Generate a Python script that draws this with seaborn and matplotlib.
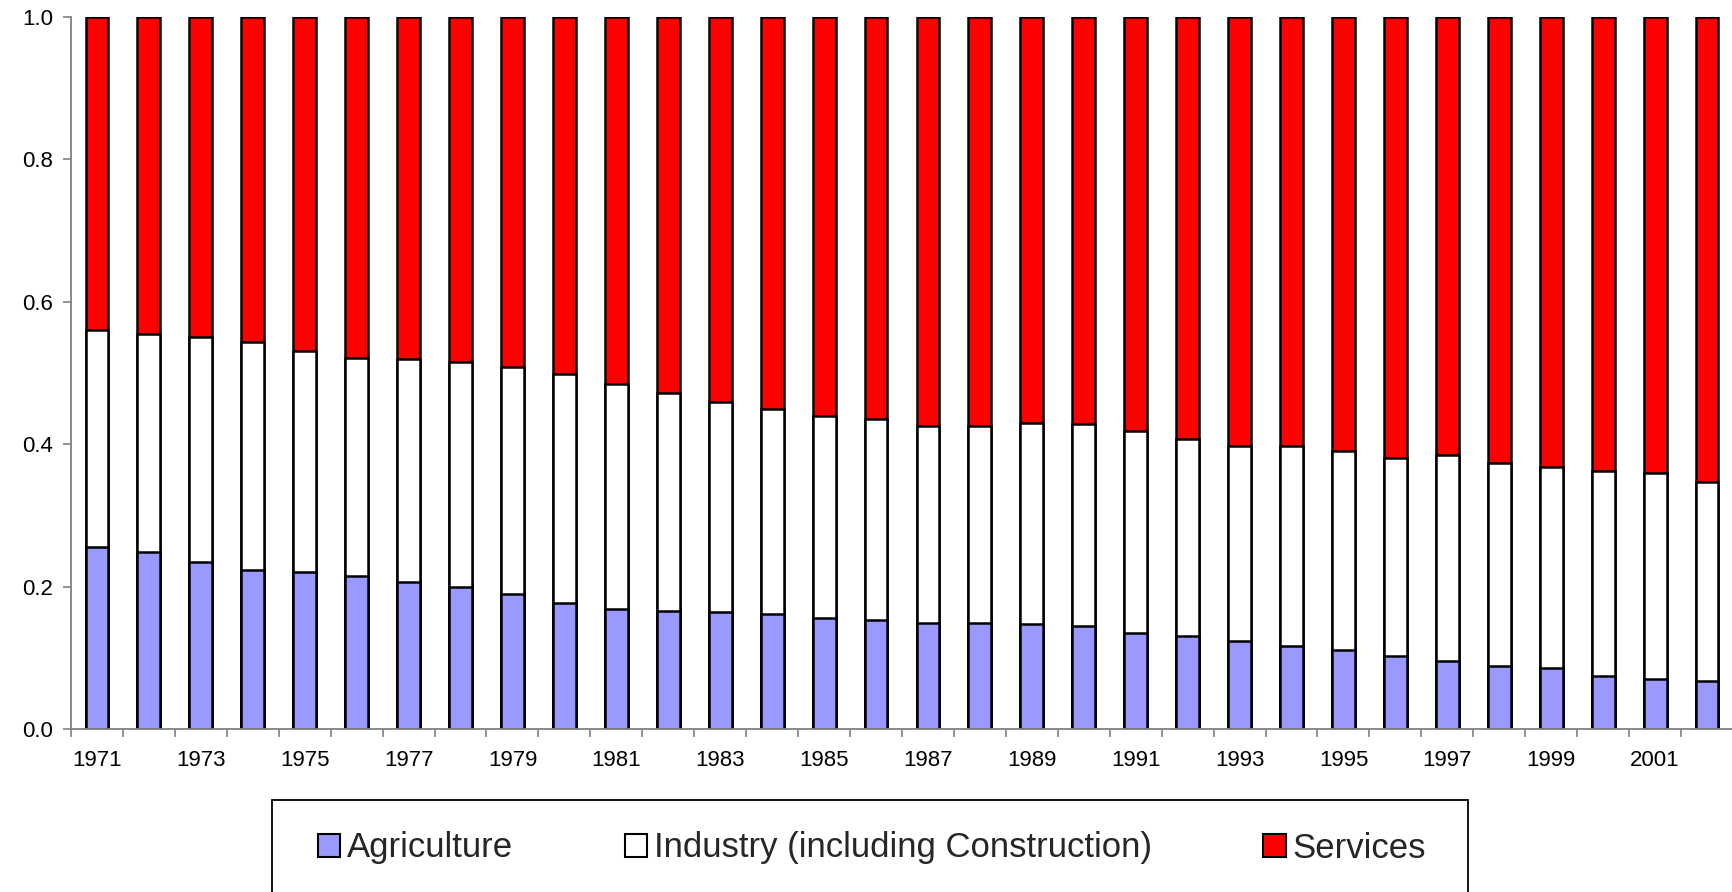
import numpy as np
import pandas as pd
import matplotlib
matplotlib.use("Agg")
import matplotlib.pyplot as plt
from matplotlib.patches import Patch, Rectangle
from matplotlib.ticker import FixedLocator
import seaborn as sns

# Sector shares of employment, 1971-2002
years = [str(y) for y in range(1971, 2003)]
agriculture = [0.256, 0.248, 0.235, 0.223, 0.220, 0.215, 0.207, 0.200, 0.189, 0.177,
               0.169, 0.166, 0.165, 0.162, 0.156, 0.153, 0.149, 0.149, 0.148, 0.144,
               0.135, 0.131, 0.123, 0.117, 0.111, 0.103, 0.096, 0.088, 0.085, 0.075,
               0.070, 0.068]
industry = [0.304, 0.307, 0.315, 0.320, 0.311, 0.306, 0.312, 0.316, 0.319, 0.321,
            0.315, 0.306, 0.294, 0.287, 0.284, 0.282, 0.276, 0.277, 0.282, 0.284,
            0.283, 0.277, 0.274, 0.280, 0.279, 0.278, 0.289, 0.286, 0.283, 0.288,
            0.289, 0.279]
services = [round(1 - a - i, 3) for a, i in zip(agriculture, industry)]

labels = ["Agriculture", "Industry (including Construction)", "Services"]
colors = ["#9999FF", "#FFFFFF", "#FF0000"]

df = pd.DataFrame({"year": years, "Agriculture": agriculture,
                   "Industry": industry, "Services": services})
df["agri_ind"] = df["Agriculture"] + df["Industry"]
df["total"] = df["agri_ind"] + df["Services"]

sns.set_theme(style="white")
plt.rcParams["font.family"] = ["Liberation Sans", "DejaVu Sans"]

fig = plt.figure(figsize=(17.33, 8.92), dpi=100)
ax = fig.add_axes([71 / 1733, 1 - 729 / 892, 1 - 71 / 1733, (729 - 17) / 892])

bar_kws = dict(x="year", order=years, edgecolor="black", linewidth=1.8,
               width=0.44, saturation=1, errorbar=None, ax=ax)
# Stack by overlaying cumulative totals, tallest first
sns.barplot(data=df, y="total", color=colors[2], **bar_kws)
sns.barplot(data=df, y="agri_ind", color=colors[1], **bar_kws)
sns.barplot(data=df, y="Agriculture", color=colors[0], **bar_kws)

ax.set_xlim(-0.5, len(years) - 0.5)
ax.set_ylim(0, 1.0)
ax.set_xlabel("")
ax.set_ylabel("")

ax.set_yticks(np.arange(0, 1.01, 0.2))
ax.set_yticklabels([f"{v:.1f}" for v in np.arange(0, 1.01, 0.2)])
ax.set_xticks(range(0, len(years), 2))
ax.set_xticklabels(years[::2])
ax.xaxis.set_minor_locator(FixedLocator(np.arange(-0.5, len(years), 1)))

spine_color = "#808080"
for side in ["top", "right"]:
    ax.spines[side].set_visible(False)
for side in ["left", "bottom"]:
    ax.spines[side].set_color(spine_color)
    ax.spines[side].set_linewidth(1.3)

ax.tick_params(axis="y", which="major", direction="out", length=6, width=1.2,
               color=spine_color, pad=7, labelsize=16, labelcolor="black", left=True)
ax.tick_params(axis="x", which="major", length=0, pad=15, labelsize=16,
               labelcolor="black", bottom=True)
ax.tick_params(axis="x", which="minor", direction="out", length=5.5, width=1.2,
               color=spine_color, bottom=True)
ax.grid(False)

# Legend box below the axes
fig.patches.append(Rectangle((272 / 1733, -0.05), (1468 - 272) / 1733, 1 - 800 / 892 + 0.05,
                             transform=fig.transFigure, facecolor="white",
                             edgecolor="black", linewidth=1.3, clip_on=False))
handles = [Patch(facecolor=c, edgecolor="black", linewidth=1.5, label=l)
           for c, l in zip(colors, labels)]
fig.legend(handles=handles, loc="center", bbox_to_anchor=(872 / 1733, 1 - 848 / 892),
           ncol=3, frameon=False, fontsize=25, handlelength=0.65, handleheight=0.65,
           handletextpad=0.2, columnspacing=3.2, borderpad=0)

fig.savefig("out.png", dpi=100)
